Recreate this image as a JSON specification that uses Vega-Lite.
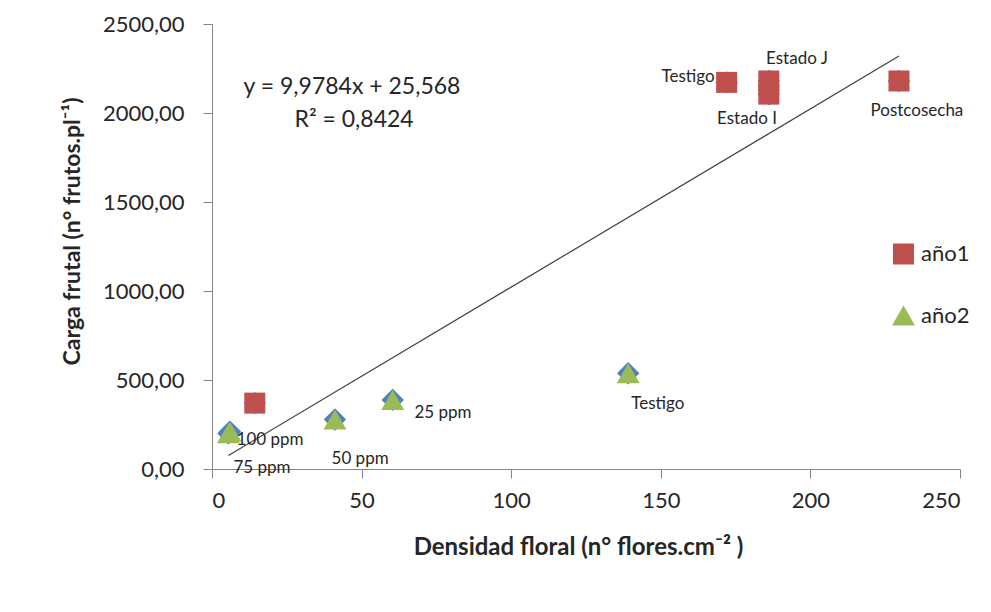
{
  "$schema": "https://vega.github.io/schema/vega-lite/v6.json",
  "autosize": "none",
  "width": 748,
  "height": 445,
  "padding": {"left": 212, "top": 24, "right": 31, "bottom": 143},
  "background": "white",
  "config": {
    "view": {"stroke": null},
    "font": "Lato",
    "axis": {
      "grid": false,
      "domainColor": "#868686",
      "tickColor": "#868686",
      "tickSize": 9,
      "labelFont": "Lato",
      "labelFontSize": 22,
      "labelColor": "#262626",
      "titleFont": "Lato",
      "titleFontSize": 23,
      "titleFontWeight": "bold",
      "titleColor": "#262626"
    }
  },
  "datasets": {
    "puntos": [
      {"serie": "año1", "trat": "Testigo", "x": 172.0, "y": 2172},
      {"serie": "año1", "trat": "Estado J", "x": 186.1, "y": 2180},
      {"serie": "año1", "trat": "Estado I", "x": 186.1, "y": 2106},
      {"serie": "año1", "trat": "Postcosecha", "x": 229.6, "y": 2180},
      {"serie": "año1", "trat": "", "x": 14.3, "y": 370},
      {"serie": "año2", "trat": "100 ppm", "x": 5.5, "y": 200},
      {"serie": "año2", "trat": "75 ppm", "x": 6.0, "y": 210},
      {"serie": "año2", "trat": "50 ppm", "x": 41.1, "y": 278},
      {"serie": "año2", "trat": "25 ppm", "x": 60.4, "y": 388},
      {"serie": "año2", "trat": "Testigo", "x": 139.1, "y": 538}
    ],
    "etiquetas": [
      {"texto": "Testigo", "x": 159.1, "y": 2202},
      {"texto": "Estado J", "x": 195.5, "y": 2303},
      {"texto": "Estado I", "x": 178.8, "y": 1966},
      {"texto": "Postcosecha", "x": 235.6, "y": 2011},
      {"texto": "100 ppm", "x": 19.4, "y": 163},
      {"texto": "75 ppm", "x": 16.7, "y": 6},
      {"texto": "50 ppm", "x": 49.5, "y": 56},
      {"texto": "25 ppm", "x": 77.2, "y": 315},
      {"texto": "Testigo", "x": 149.0, "y": 365}
    ],
    "ecuacion": [
      {"texto": "y = 9,9784x + 25,568", "x": 46.8, "y": 2146},
      {"texto": "R² = 0,8424", "x": 47.5, "y": 1961}
    ]
  },
  "encoding": {
    "x": {
      "field": "x", "type": "quantitative",
      "scale": {"domain": [0, 250], "nice": false, "zero": false},
      "axis": {"values": [0, 50, 100, 150, 200, 250], "labelPadding": 12, "title": "Densidad floral (n° flores.cm⁻² )", "titleFontSize": 24, "titleX": 366, "titleY": 78, "titleBaseline": "middle"}
    },
    "y": {
      "field": "y", "type": "quantitative",
      "scale": {"domain": [0, 2500], "nice": false, "zero": false},
      "axis": {"values": [0, 500, 1000, 1500, 2000, 2500], "labelPadding": 19, "labelExpr": "replace(format(datum.value, '.2f'), '.', ',')", "title": "Carga frutal (n° frutos.pl⁻¹)", "titleX": -140, "titleY": 207, "titleBaseline": "middle"}
    }
  },
  "layer": [
    {
      "data": {"name": "puntos"},
      "mark": {"type": "point", "shape": "diamond", "filled": true, "size": 500, "color": "#4F81BD", "opacity": 1}
    },
    {
      "data": {"name": "puntos"},
      "transform": [{"regression": "y", "on": "x"}],
      "mark": {"type": "line", "color": "#404040", "strokeWidth": 1.2}
    },
    {
      "data": {"name": "puntos"},
      "mark": {"type": "point", "filled": true, "opacity": 1, "strokeWidth": 0.8},
      "encoding": {
        "color": {
          "field": "serie", "type": "nominal",
          "scale": {"domain": ["año1", "año2"], "range": ["#C0504D", "#9BBB59"]},
          "legend": {
            "title": null, "orient": "none", "legendX": 680, "legendY": 219,
            "labelFont": "Lato", "labelFontSize": 22, "labelColor": "#262626",
            "symbolSize": 280, "labelOffset": 6, "rowPadding": 39,
            "symbolStrokeWidth": 0
          }
        },
        "shape": {
          "field": "serie", "type": "nominal",
          "scale": {"domain": ["año1", "año2"], "range": ["square", "triangle-up"]}
        },
        "size": {
          "field": "serie", "type": "nominal",
          "scale": {"domain": ["año1", "año2"], "range": [441, 529]},
          "legend": null
        }
      }
    },
    {
      "data": {"name": "etiquetas"},
      "mark": {"type": "text", "font": "Lato", "fontSize": 17, "color": "#262626", "align": "center", "baseline": "middle"},
      "encoding": {"text": {"field": "texto"}}
    },
    {
      "data": {"name": "ecuacion"},
      "mark": {"type": "text", "font": "Lato", "fontSize": 23, "color": "#262626", "align": "center", "baseline": "middle"},
      "encoding": {"text": {"field": "texto"}}
    }
  ]
}
